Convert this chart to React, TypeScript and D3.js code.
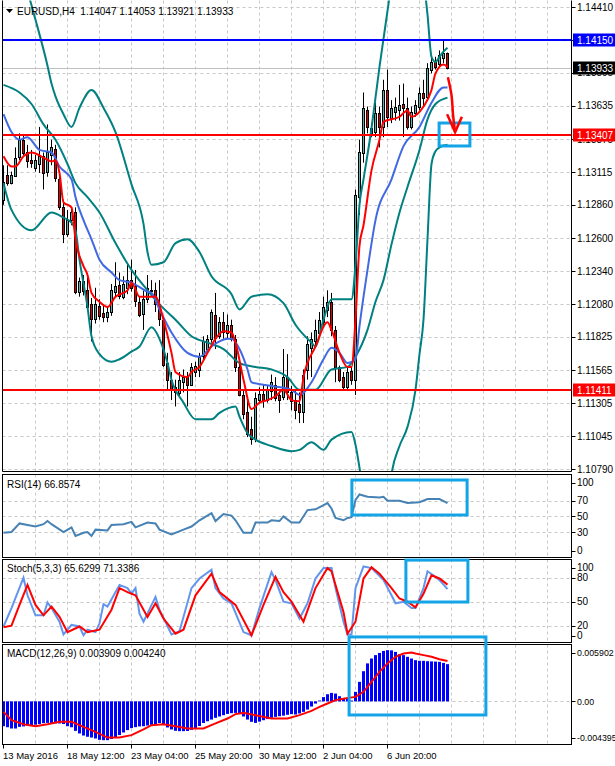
import React, { useEffect, useRef } from 'react';
import * as d3 from 'd3';

const W = 615;
const H = 766;

// EURUSD H4 bars, 13 May 2016 20:00 .. 8 Jun 2016 08:00
const openP = [
  1.1290, 1.1309, 1.1303, 1.1309, 1.1324, 1.1337, 1.1327, 1.1321, 1.1315, 1.1318,
  1.1324, 1.1311, 1.1325, 1.1330, 1.1306, 1.1284, 1.1263, 1.1274, 1.1280, 1.1217,
  1.1226, 1.1219, 1.1208, 1.1196, 1.1207, 1.1201, 1.1198, 1.1202, 1.1217, 1.1223,
  1.1214, 1.1221, 1.1227, 1.1222, 1.1210, 1.1200, 1.1212, 1.1218, 1.1219, 1.1208,
  1.1196, 1.1162, 1.1149, 1.1143, 1.1139, 1.1147, 1.1151, 1.1145, 1.1155, 1.1157,
  1.1167, 1.1173, 1.1181, 1.1200, 1.1183, 1.1194, 1.1186, 1.1192, 1.1181, 1.1159,
  1.1137, 1.1124, 1.1110, 1.1103, 1.1133, 1.1138, 1.1133, 1.1140, 1.1145, 1.1137,
  1.1135, 1.1151, 1.1139, 1.1133, 1.1130, 1.1124, 1.1157, 1.1174, 1.1179, 1.1186,
  1.1194, 1.1204, 1.1210, 1.1188, 1.1159, 1.1151, 1.1143, 1.1156, 1.1149, 1.1292,
  1.1327, 1.1360, 1.1342, 1.1343, 1.1358, 1.1347, 1.1376, 1.1354, 1.1359, 1.1360,
  1.1365, 1.1362, 1.1347, 1.1358, 1.1363, 1.1374, 1.1370, 1.1392, 1.1398, 1.1396,
  1.1401, 1.14047,
];
const highP = [
  1.1317, 1.1317, 1.1312, 1.1331, 1.1342, 1.1340, 1.1333, 1.1329, 1.1325, 1.1347,
  1.1327, 1.1349, 1.1337, 1.1333, 1.1311, 1.1290, 1.1282, 1.1284, 1.1284, 1.1229,
  1.1231, 1.1230, 1.1213, 1.1221, 1.1212, 1.1208, 1.1206, 1.1224, 1.1241, 1.1233,
  1.1230, 1.1240, 1.1243, 1.1235, 1.1214, 1.1219, 1.1231, 1.1227, 1.1225, 1.1227,
  1.1198, 1.1170, 1.1155, 1.1149, 1.1155, 1.1157, 1.1155, 1.1162, 1.1163, 1.1170,
  1.1183, 1.1184, 1.1204, 1.1217, 1.1198, 1.1202, 1.1200, 1.1196, 1.1184, 1.1162,
  1.1141, 1.1133, 1.1120, 1.1139, 1.1143, 1.1145, 1.1144, 1.1153, 1.1151, 1.1141,
  1.1173, 1.1169, 1.1144, 1.1141, 1.1139, 1.1157, 1.1183, 1.1186, 1.1196, 1.1202,
  1.1214, 1.1219, 1.1217, 1.1191, 1.1160, 1.1155, 1.1159, 1.1159, 1.1298, 1.1337,
  1.1374, 1.1363, 1.1350, 1.1366, 1.1363, 1.1384, 1.1392, 1.1368, 1.1370, 1.1380,
  1.1381, 1.1370, 1.1363, 1.1368, 1.1378, 1.1384, 1.1397, 1.1403, 1.1402, 1.1407,
  1.1415, 1.14053,
];
const lowP = [
  1.1286, 1.1301, 1.1302, 1.1308, 1.1321, 1.1325, 1.1315, 1.1315, 1.1312, 1.1311,
  1.1298, 1.1308, 1.1317, 1.1304, 1.1282, 1.1256, 1.1261, 1.1270, 1.1216, 1.1214,
  1.1215, 1.1204, 1.1179, 1.1193, 1.1196, 1.1194, 1.1194, 1.1199, 1.1213, 1.1212,
  1.1212, 1.1216, 1.1218, 1.1206, 1.1198, 1.1188, 1.1209, 1.1214, 1.1202, 1.1191,
  1.1159, 1.1141, 1.1133, 1.1128, 1.1136, 1.1139, 1.1128, 1.1144, 1.1151, 1.1151,
  1.1165, 1.1171, 1.1178, 1.1173, 1.1181, 1.1181, 1.1181, 1.1179, 1.1155, 1.1136,
  1.1118, 1.1104, 1.1098, 1.1100, 1.1130, 1.1127, 1.1131, 1.1133, 1.1132, 1.1123,
  1.1133, 1.1133, 1.1125, 1.1118, 1.1115, 1.1115, 1.1149, 1.1151, 1.1175, 1.1183,
  1.1191, 1.1198, 1.1183, 1.1147, 1.1147, 1.1141, 1.1141, 1.1145, 1.1137, 1.1278,
  1.1319, 1.1342, 1.1339, 1.1339, 1.1331, 1.1339, 1.1347, 1.1350, 1.1352, 1.1352,
  1.1339, 1.1345, 1.1345, 1.1355, 1.1360, 1.1363, 1.1368, 1.1389, 1.1392, 1.1394,
  1.1397, 1.13921,
];
const closeP = [
  1.1304, 1.1303, 1.1309, 1.1323, 1.1337, 1.1327, 1.1320, 1.1319, 1.1321, 1.1324,
  1.1311, 1.1327, 1.1331, 1.1307, 1.1284, 1.1263, 1.1274, 1.1280, 1.1217, 1.1226,
  1.1218, 1.1206, 1.1196, 1.1208, 1.1199, 1.1198, 1.1202, 1.1219, 1.1222, 1.1214,
  1.1224, 1.1227, 1.1221, 1.1210, 1.1200, 1.1212, 1.1221, 1.1219, 1.1208, 1.1196,
  1.1161, 1.1149, 1.1141, 1.1139, 1.1149, 1.1151, 1.1145, 1.1159, 1.1160, 1.1167,
  1.1179, 1.1181, 1.1202, 1.1182, 1.1194, 1.1186, 1.1192, 1.1181, 1.1159, 1.1137,
  1.1122, 1.1107, 1.1102, 1.1135, 1.1138, 1.1133, 1.1141, 1.1147, 1.1135, 1.1133,
  1.1151, 1.1139, 1.1132, 1.1125, 1.1124, 1.1153, 1.1177, 1.1181, 1.1188, 1.1196,
  1.1206, 1.1210, 1.1188, 1.1159, 1.1149, 1.1143, 1.1155, 1.1149, 1.1294, 1.1327,
  1.1362, 1.1347, 1.1346, 1.1358, 1.1347, 1.1376, 1.1355, 1.1362, 1.1363, 1.1364,
  1.1362, 1.1347, 1.1359, 1.1364, 1.1374, 1.1370, 1.1393, 1.1398, 1.1394, 1.1403,
  1.1405, 1.13933,
];

// indicator lines: [bar, value]
const bbUpper: [number, number][] = [
  [3, 1.1475], [6, 1.1453], [8, 1.1431], [11, 1.1395], [12, 1.1381], [13, 1.1371], [15, 1.1357],
  [17, 1.1347], [19, 1.1362], [22, 1.1376], [25, 1.1362], [28, 1.1343], [32, 1.1302], [35, 1.1271],
  [36, 1.1249], [37, 1.1239], [40, 1.1241], [43, 1.1256], [46, 1.1259], [49, 1.1249], [52, 1.1230],
  [57, 1.1216], [59, 1.1204], [62, 1.1214], [66, 1.1216], [70, 1.1209], [73, 1.1192], [77, 1.1178],
  [78, 1.1175], [80, 1.1196], [82, 1.1212], [87, 1.1212], [88, 1.1239], [89, 1.1286], [90, 1.1306],
  [92, 1.1346], [93, 1.1370], [94, 1.1394], [95, 1.1416], [96, 1.1438], [97, 1.1459], [99, 1.1490],
  [103, 1.1495], [105, 1.1463], [106, 1.1435], [107, 1.1402], [108, 1.1398], [109, 1.1402],
  [110, 1.1406], [111, 1.1409],
];
const bbMiddle: [number, number][] = [
  [0, 1.1380], [4, 1.1374], [7, 1.1365], [10, 1.1349], [13, 1.1337], [16, 1.1318], [18, 1.1303],
  [21, 1.1292], [24, 1.1280], [28, 1.1256], [32, 1.1235], [36, 1.1219], [39, 1.1208], [43, 1.1196],
  [47, 1.1183], [51, 1.1178], [55, 1.1173], [59, 1.1162], [63, 1.1159], [67, 1.1157], [71, 1.1151],
  [74, 1.1141], [78, 1.1141], [82, 1.1157], [86, 1.1159], [88, 1.1167], [91, 1.1188], [93, 1.1210],
  [95, 1.1227], [97, 1.1255], [99, 1.1280], [101, 1.1300], [104, 1.1329], [106, 1.1353],
  [108, 1.1365], [111, 1.1370],
];
const bbLower: [number, number][] = [
  [0, 1.1303], [2, 1.1282], [7, 1.1266], [12, 1.1280], [15, 1.1276], [17, 1.1272], [18, 1.1266],
  [19, 1.1243], [21, 1.1206], [22, 1.1183], [24, 1.1169], [27, 1.1163], [29, 1.1165], [32, 1.1171],
  [34, 1.1175], [37, 1.1190], [39, 1.1181], [41, 1.1162], [42, 1.1149], [45, 1.1131], [48, 1.1118],
  [52, 1.1118], [54, 1.1123], [58, 1.1128], [59, 1.1120], [61, 1.1107], [63, 1.1102], [67, 1.1097],
  [72, 1.1093], [74, 1.1094], [77, 1.1100], [80, 1.1094], [82, 1.1102], [87, 1.1108], [88, 1.1098],
  [89, 1.1080], [90, 1.1060], [92, 1.1040], [94, 1.1035], [96, 1.1050], [97, 1.1075], [99, 1.1097],
  [101, 1.1112], [103, 1.1141], [104, 1.1169], [105, 1.1196], [106, 1.1259], [107, 1.1318],
  [108, 1.1328], [109, 1.1331], [111, 1.1333],
];
const blueMa: [number, number][] = [
  [0, 1.1357], [2, 1.1343], [4, 1.1337], [6, 1.1339], [9, 1.1329], [12, 1.1327], [14, 1.1316],
  [17, 1.1306], [18, 1.1292], [20, 1.1274], [22, 1.1259], [24, 1.1243], [27, 1.1233], [29, 1.1227],
  [32, 1.1225], [36, 1.1218], [37, 1.1217], [39, 1.1204], [42, 1.1186], [46, 1.1170], [49, 1.1167],
  [52, 1.1175], [56, 1.1181], [57, 1.1181], [59, 1.1173], [61, 1.1157], [62, 1.1147], [67, 1.1144],
  [72, 1.1141], [74, 1.1137], [77, 1.1147], [80, 1.1165], [82, 1.1174], [84, 1.1170], [86, 1.1162],
  [88, 1.1165], [89, 1.1191], [91, 1.1235], [93, 1.1274], [97, 1.1306], [100, 1.1332],
  [104, 1.1347], [107, 1.1366], [110, 1.1378], [111, 1.1378],
];
const redMa: [number, number][] = [
  [0, 1.1324], [2, 1.1316], [3, 1.1316], [5, 1.1324], [7, 1.1327], [10, 1.1323], [12, 1.1320],
  [13, 1.1321], [14, 1.1311], [15, 1.1288], [17, 1.1284], [18, 1.1259], [20, 1.1238], [21, 1.1231],
  [22, 1.1217], [24, 1.1210], [26, 1.1206], [28, 1.1214], [31, 1.1219], [32, 1.1225], [34, 1.1214],
  [37, 1.1214], [38, 1.1214], [40, 1.1196], [42, 1.1170], [43, 1.1155], [46, 1.1151], [47, 1.1155],
  [49, 1.1159], [51, 1.1170], [53, 1.1181], [55, 1.1187], [57, 1.1186], [58, 1.1178], [60, 1.1149],
  [62, 1.1126], [64, 1.1131], [66, 1.1133], [68, 1.1136], [70, 1.1141], [72, 1.1133], [74, 1.1132],
  [75, 1.1151], [78, 1.1175], [81, 1.1194], [82, 1.1188], [84, 1.1170], [86, 1.1159], [87, 1.1159],
  [88, 1.1196], [89, 1.1254], [90, 1.1270], [92, 1.1313], [94, 1.1337], [95, 1.1351], [99, 1.1355],
  [101, 1.1360], [102, 1.1355], [105, 1.1363], [107, 1.1376], [108, 1.1389], [110, 1.1396],
  [111, 1.1394],
];

const rsiPts: [number, number][] = [
  [0, 29], [2, 30], [4, 41], [6, 39], [8, 37], [10, 40], [11, 44], [12, 40], [15, 30], [17, 36],
  [18, 25], [20, 29], [21, 30], [22, 25], [23, 33], [26, 32], [27, 39], [30, 40], [32, 43], [33, 36],
  [36, 42], [38, 41], [39, 33], [42, 27], [45, 33], [47, 37], [49, 45], [52, 54], [53, 44], [55, 53],
  [57, 51], [58, 45], [60, 29], [62, 29], [63, 42], [66, 42], [67, 45], [69, 44], [70, 50], [72, 42],
  [74, 42], [76, 58], [78, 59], [81, 67], [82, 60], [83, 48], [85, 45], [86, 48], [87, 49], [88, 71],
  [89, 78], [91, 75], [94, 74], [95, 75], [96, 70], [99, 70], [101, 67], [104, 68], [106, 72],
  [109, 72], [111, 66.86],
];
const stochK: [number, number][] = [
  [0, 19], [2, 42], [5, 80], [6, 58], [8, 33], [10, 33], [11, 49], [12, 42], [14, 25], [15, 9],
  [17, 21], [19, 19], [20, 8], [21, 15], [23, 12], [24, 23], [25, 47], [26, 44], [29, 71], [31, 67],
  [32, 60], [33, 67], [34, 35], [35, 25], [38, 56], [39, 40], [42, 9], [44, 13], [47, 67], [49, 79],
  [52, 90], [53, 67], [55, 54], [57, 48], [60, 12], [62, 8], [64, 42], [67, 87], [68, 77], [70, 50],
  [72, 48], [74, 29], [76, 48], [78, 79], [80, 92], [82, 92], [83, 67], [85, 25], [86, 9], [87, 9],
  [88, 67], [90, 94], [92, 92], [95, 77], [97, 58], [98, 48], [100, 50], [102, 42], [103, 42],
  [105, 67], [106, 88], [108, 81], [109, 77], [111, 65.63],
];
const stochD: [number, number][] = [
  [0, 18], [2, 20], [4, 46], [6, 71], [8, 46], [10, 33], [12, 44], [14, 31], [16, 12], [19, 19],
  [21, 12], [24, 15], [27, 40], [29, 67], [31, 62], [33, 58], [36, 31], [38, 48], [40, 29], [43, 10],
  [45, 15], [48, 58], [52, 85], [54, 62], [58, 46], [62, 8], [65, 46], [68, 81], [70, 62], [72, 50],
  [75, 25], [78, 67], [81, 92], [82, 88], [85, 37], [86, 10], [88, 25], [90, 79], [92, 93], [94, 85],
  [97, 67], [99, 54], [101, 50], [103, 43], [105, 60], [107, 83], [109, 79], [111, 71.34],
];

const macdHist = [
  -0.00261, -0.00272, -0.00285, -0.00285, -0.00268, -0.00263, -0.00256, -0.00250, -0.00245, -0.00238,
  -0.00229, -0.00226, -0.00227, -0.00231, -0.00232, -0.00238, -0.00261, -0.00272, -0.00310, -0.00337,
  -0.00359, -0.00372, -0.00380, -0.00390, -0.00404, -0.00408, -0.00408, -0.00395, -0.00381, -0.00354,
  -0.00327, -0.00302, -0.00281, -0.00271, -0.00263, -0.00261, -0.00254, -0.00247, -0.00238, -0.00227,
  -0.00241, -0.00274, -0.00295, -0.00309, -0.00313, -0.00313, -0.00311, -0.00300, -0.00289, -0.00259,
  -0.00227, -0.00209, -0.00191, -0.00173, -0.00159, -0.00145, -0.00132, -0.00124, -0.00121, -0.00132,
  -0.00159, -0.00191, -0.00215, -0.00226, -0.00213, -0.00198, -0.00186, -0.00173, -0.00163, -0.00156,
  -0.00150, -0.00141, -0.00134, -0.00138, -0.00127, -0.00110, -0.00086, -0.00054, -0.00023, 0.00009,
  0.00045, 0.00075, 0.00089, 0.00082, 0.00054, 0.00027, 0.00027, 0.00009, 0.00100, 0.00205,
  0.00317, 0.00399, 0.00450, 0.00486, 0.00509, 0.00530, 0.00538, 0.00536, 0.00520, 0.00496,
  0.00486, 0.00468, 0.00450, 0.00433, 0.00426, 0.00426, 0.00422, 0.00420, 0.00418, 0.00415,
  0.00404, 0.003909,
];
const macdSignal: [number, number][] = [
  [0, -0.00110], [2, -0.00198], [5, -0.00240], [8, -0.00261], [11, -0.00240], [14, -0.00215],
  [17, -0.00215], [20, -0.00268], [23, -0.00321], [26, -0.00380], [29, -0.00380], [32, -0.00355],
  [35, -0.00295], [37, -0.00250], [40, -0.00240], [43, -0.00261], [46, -0.00285], [50, -0.00285],
  [53, -0.00232], [56, -0.00180], [58, -0.00134], [60, -0.00121], [63, -0.00145], [67, -0.00180],
  [71, -0.00180], [74, -0.00145], [77, -0.00100], [79, -0.00058], [81, -0.00022], [83, 0.00013],
  [86, 0.00036], [88, 0.00047], [90, 0.00100], [92, 0.00205], [94, 0.00310], [96, 0.00399],
  [98, 0.00468], [100, 0.00503], [102, 0.00514], [103, 0.00503], [105, 0.00486], [107, 0.00468],
  [109, 0.00443], [111, 0.00424],
];

const priceTicks = [
  1.1441, 1.1415, 1.13895, 1.13635, 1.13375, 1.13115, 1.1286, 1.126, 1.1234, 1.1208,
  1.11825, 1.11565, 1.11305, 1.11045, 1.1079,
];
const levelValues = [1.1415, 1.13407, 1.11411];
const bidPrice = 1.13933;
const rsiTicks = [100, 70, 50, 30, 0];
const rsiLevels = [70, 50, 30];
const stochTicks = [100, 80, 50, 20, 0];
const stochLevels = [80, 50, 20];
const macdTicks = [0.005902, 0, -0.004395];
const macdTickLabels = ['0.005902', '0.00', '-0.004395'];

const timeLabels = ['13 May 2016', '18 May 12:00', '23 May 04:00', '25 May 20:00', '30 May 12:00', '2 Jun 04:00', '6 Jun 20:00'];
const timeLabelBars = [0, 16, 32, 48, 64, 80, 96];

const headerText = 'EURUSD,H4  1.14047 1.14053 1.13921 1.13933';
const rsiText = 'RSI(14) 66.8574';
const stochText = 'Stoch(5,3,3) 65.6299 71.3386';
const macdText = 'MACD(12,26,9) 0.003909 0.004240';

// highlight boxes drawn on the chart: [barFrom, barTo, valueTop, valueBottom]
const mainBox = [108.9, 116.6, 1.13501, 1.13321];
const rsiBox = [87.1, 115.9, 96.4, 51.7];
const stochBox = [100.6, 116.1, 102, 49.6];
const macdBox = [86.4, 120.6, 0.00677, -0.00143];
const arrowPath: [number, number][] = [[111.1, 1.1386], [112.0, 1.1372], [112.4, 1.1356], [112.9, 1.1343]];
const arrowHead: [number, number][] = [[110.9, 1.1357], [112.9, 1.1343], [114.6, 1.1355]];

export default function App() {
  const svgRef = useRef<SVGSVGElement>(null);

  useEffect(() => {
    document.body.style.margin = '0';
    if (!svgRef.current) return;
    const svg = d3.select(svgRef.current);
    svg.selectAll('*').remove();

    const font = 'Liberation Sans, Arial, sans-serif';
    const left = 2.5;
    const right = 571.5;
    const panels: Record<string, { top: number; bottom: number }> = {
      main: { top: 0.5, bottom: 471.5 },
      rsi: { top: 474.5, bottom: 557.5 },
      stoch: { top: 559.5, bottom: 642.5 },
      macd: { top: 644.5, bottom: 744.5 },
    };

    const x = d3.scaleLinear().domain([0, 141]).range([3.5, 567.5]);
    const yMain = d3.scaleLinear().domain([1.1079, 1.1441]).range([469, 7]);
    const yRsi = d3.scaleLinear().domain([0, 100]).range([555.5, 477.2]);
    const yStoch = d3.scaleLinear().domain([0, 100]).range([641.7, 561.7]);
    const yMacd = d3.scaleLinear().domain([-0.004395, 0.005902]).range([743.2, 645.2]);

    const teal = '#008080';
    const bull = '#5ab4ac';
    const bear = '#e00000';
    const gridColor = '#c8c8c8';
    const cyan = '#12a4e6';

    svg.append('rect').attr('width', W).attr('height', H).attr('fill', '#fff');

    const defs = svg.append('defs');
    Object.entries(panels).forEach(([k, p]) => {
      defs.append('clipPath').attr('id', `clip-${k}`)
        .append('rect')
        .attr('x', left).attr('y', p.top)
        .attr('width', right - left).attr('height', p.bottom - p.top);
    });

    // vertical grid, every 8 bars
    const gridBars = d3.range(8, 141, 8);
    Object.values(panels).forEach((p) => {
      svg.append('g').selectAll('line').data(gridBars).join('line')
        .attr('x1', (d) => x(d)).attr('x2', (d) => x(d))
        .attr('y1', p.top).attr('y2', p.bottom)
        .attr('stroke', gridColor).attr('stroke-dasharray', '3,3');
    });

    const hGrid = (values: number[], scale: d3.ScaleLinear<number, number>) => {
      svg.append('g').selectAll('line').data(values).join('line')
        .attr('x1', left).attr('x2', right)
        .attr('y1', (d) => Math.round(scale(d)) + 0.5).attr('y2', (d) => Math.round(scale(d)) + 0.5)
        .attr('stroke', gridColor).attr('stroke-dasharray', '3,3');
    };
    hGrid(priceTicks, yMain);
    hGrid(rsiLevels, yRsi);
    hGrid(stochLevels, yStoch);
    hGrid([0], yMacd);

    // ---- main chart ----
    const main = svg.append('g').attr('clip-path', 'url(#clip-main)');

    // bid line
    main.append('line')
      .attr('x1', left).attr('x2', right)
      .attr('y1', Math.round(yMain(bidPrice)) + 0.5).attr('y2', Math.round(yMain(bidPrice)) + 0.5)
      .attr('stroke', '#c0c0c0');

    const bars = d3.range(closeP.length);
    const candles = main.append('g');
    candles.selectAll('line').data(bars).join('line')
      .attr('x1', (i) => x(i)).attr('x2', (i) => x(i))
      .attr('y1', (i) => yMain(highP[i])).attr('y2', (i) => yMain(lowP[i]))
      .attr('stroke', '#000');
    candles.selectAll('rect').data(bars).join('rect')
      .attr('x', (i) => x(i) - 1)
      .attr('width', 2)
      .attr('y', (i) => Math.round(Math.min(yMain(openP[i]), yMain(closeP[i]))) + 0.5)
      .attr('height', (i) => Math.max(1, Math.round(Math.abs(yMain(openP[i]) - yMain(closeP[i])))))
      .attr('fill', (i) => (closeP[i] >= openP[i] ? bull : bear))
      .attr('stroke', '#000');

    const priceLine = d3.line<[number, number]>()
      .x((d) => x(d[0])).y((d) => yMain(d[1]))
      .curve(d3.curveMonotoneX);

    [bbUpper, bbMiddle, bbLower].forEach((s) => {
      main.append('path').attr('d', priceLine(s)).attr('fill', 'none')
        .attr('stroke', teal).attr('stroke-width', 2);
    });
    main.append('path').attr('d', priceLine(blueMa)).attr('fill', 'none')
      .attr('stroke', '#4169e1').attr('stroke-width', 2);
    main.append('path').attr('d', priceLine(redMa)).attr('fill', 'none')
      .attr('stroke', '#ff0000').attr('stroke-width', 2);

    // horizontal levels
    const levelColors = ['#0000ff', '#ff0000', '#ff0000'];
    main.selectAll('.level').data(levelValues).join('line')
      .attr('class', 'level')
      .attr('x1', left).attr('x2', right)
      .attr('y1', (d) => Math.round(yMain(d))).attr('y2', (d) => Math.round(yMain(d)))
      .attr('stroke', (_, k) => levelColors[k]).attr('stroke-width', 2);

    // ---- RSI ----
    const rsiG = svg.append('g').attr('clip-path', 'url(#clip-rsi)');
    rsiG.append('path')
      .attr('d', d3.line<[number, number]>().x((d) => x(d[0])).y((d) => yRsi(d[1]))(rsiPts))
      .attr('fill', 'none').attr('stroke', '#4682b4').attr('stroke-width', 2);

    // ---- Stochastic ----
    const stG = svg.append('g').attr('clip-path', 'url(#clip-stoch)');
    const stLine = d3.line<[number, number]>().x((d) => x(d[0])).y((d) => yStoch(d[1]));
    stG.append('path').attr('d', stLine(stochK))
      .attr('fill', 'none').attr('stroke', '#6495ed').attr('stroke-width', 2);
    stG.append('path').attr('d', stLine(stochD))
      .attr('fill', 'none').attr('stroke', '#ff0000').attr('stroke-width', 2);

    // ---- MACD ----
    const mG = svg.append('g').attr('clip-path', 'url(#clip-macd)');
    mG.selectAll('rect').data(bars).join('rect')
      .attr('x', (i) => x(i) - 1.5)
      .attr('width', 3)
      .attr('y', (i) => Math.min(yMacd(0), yMacd(macdHist[i])))
      .attr('height', (i) => Math.abs(yMacd(macdHist[i]) - yMacd(0)))
      .attr('fill', '#0000ff');
    mG.append('path')
      .attr('d', d3.line<[number, number]>().x((d) => x(d[0])).y((d) => yMacd(d[1]))(macdSignal))
      .attr('fill', 'none').attr('stroke', '#ff0000').attr('stroke-width', 2);

    // ---- right axis labels ----
    const axisLabels = (
      values: number[],
      labels: string[],
      scale: d3.ScaleLinear<number, number>,
      p: { top: number; bottom: number },
      clamp: boolean,
      size = 10,
    ) => {
      const g = svg.append('g');
      values.forEach((v, k) => {
        let y = scale(v);
        if (clamp) y = Math.max(p.top + 8, Math.min(p.bottom - 7, y));
        g.append('line')
          .attr('x1', right).attr('x2', right + 4)
          .attr('y1', Math.round(y) + 0.5).attr('y2', Math.round(y) + 0.5)
          .attr('stroke', '#000');
        g.append('text')
          .attr('x', 577).attr('y', y + 3.5)
          .attr('font-family', font).attr('font-size', size).attr('fill', '#000')
          .text(labels[k]);
      });
    };
    axisLabels(priceTicks, priceTicks.map((v) => v.toFixed(5)), yMain, panels.main, false);
    axisLabels(rsiTicks, rsiTicks.map(String), yRsi, panels.rsi, true);
    axisLabels(stochTicks, stochTicks.map(String), yStoch, panels.stoch, true);
    axisLabels(macdTicks, macdTickLabels, yMacd, panels.macd, true, 8.8);

    // price tags
    const tags = [
      { v: levelValues[0], fill: '#0000ff' },
      { v: bidPrice, fill: '#000000' },
      { v: levelValues[1], fill: '#ff0000' },
      { v: levelValues[2], fill: '#ff0000' },
    ];
    tags.forEach((t) => {
      const y = Math.round(yMain(t.v));
      svg.append('rect')
        .attr('x', 573).attr('y', y - 6.5).attr('width', 42).attr('height', 13)
        .attr('fill', t.fill);
      svg.append('text')
        .attr('x', 577).attr('y', y + 3.5)
        .attr('font-family', font).attr('font-size', 10).attr('fill', '#fff')
        .text(t.v.toFixed(5));
    });

    // ---- time axis ----
    const tAxis = svg.append('g');
    timeLabelBars.forEach((b, k) => {
      tAxis.append('line')
        .attr('x1', x(b)).attr('x2', x(b))
        .attr('y1', panels.macd.bottom).attr('y2', panels.macd.bottom + 4)
        .attr('stroke', '#000');
      tAxis.append('text')
        .attr('x', x(b) - 0.5).attr('y', 759)
        .attr('font-family', font).attr('font-size', 9.5).attr('fill', '#000')
        .text(timeLabels[k]);
    });

    // panel frames (main chart has no top edge)
    Object.entries(panels).forEach(([k, p]) => {
      if (k === 'main') {
        svg.append('path')
          .attr('d', `M${left},${p.top}V${p.bottom}H${right}V${p.top}`)
          .attr('fill', 'none').attr('stroke', '#000');
      } else {
        svg.append('rect')
          .attr('x', left).attr('y', p.top)
          .attr('width', right - left).attr('height', p.bottom - p.top)
          .attr('fill', 'none').attr('stroke', '#000');
      }
    });

    // panel titles
    svg.append('path').attr('d', 'M6,9L13,9L9.5,13Z').attr('fill', '#000');
    const titles: [string, number][] = [[headerText, 15], [rsiText, 488], [stochText, 572], [macdText, 657]];
    titles.forEach(([t, y], k) => {
      svg.append('text')
        .attr('x', k === 0 ? 17 : 7).attr('y', y)
        .attr('font-family', font).attr('font-size', 10).attr('fill', '#000')
        .attr('xml:space', 'preserve')
        .style('white-space', 'pre')
        .text(t);
    });

    // ---- annotations ----
    const boxes: [number[], d3.ScaleLinear<number, number>][] = [
      [mainBox, yMain], [rsiBox, yRsi], [stochBox, yStoch], [macdBox, yMacd],
    ];
    boxes.forEach(([b, sc]) => {
      svg.append('rect')
        .attr('x', x(b[0])).attr('y', sc(b[2]))
        .attr('width', x(b[1]) - x(b[0])).attr('height', sc(b[3]) - sc(b[2]))
        .attr('fill', 'none').attr('stroke', cyan).attr('stroke-width', 3);
    });
    const annLine = d3.line<[number, number]>().x((d) => x(d[0])).y((d) => yMain(d[1]));
    svg.append('path').attr('d', annLine.curve(d3.curveCatmullRom)(arrowPath))
      .attr('fill', 'none').attr('stroke', '#ff0000').attr('stroke-width', 2.5);
    svg.append('path').attr('d', d3.line<[number, number]>().x((d) => x(d[0])).y((d) => yMain(d[1]))(arrowHead))
      .attr('fill', 'none').attr('stroke', '#ff0000').attr('stroke-width', 2.5)
      .attr('stroke-linejoin', 'miter');

    return () => {
      svg.selectAll('*').remove();
    };
  }, []);

  return <svg ref={svgRef} width={W} height={H} style={{ display: 'block' }} />;
}
